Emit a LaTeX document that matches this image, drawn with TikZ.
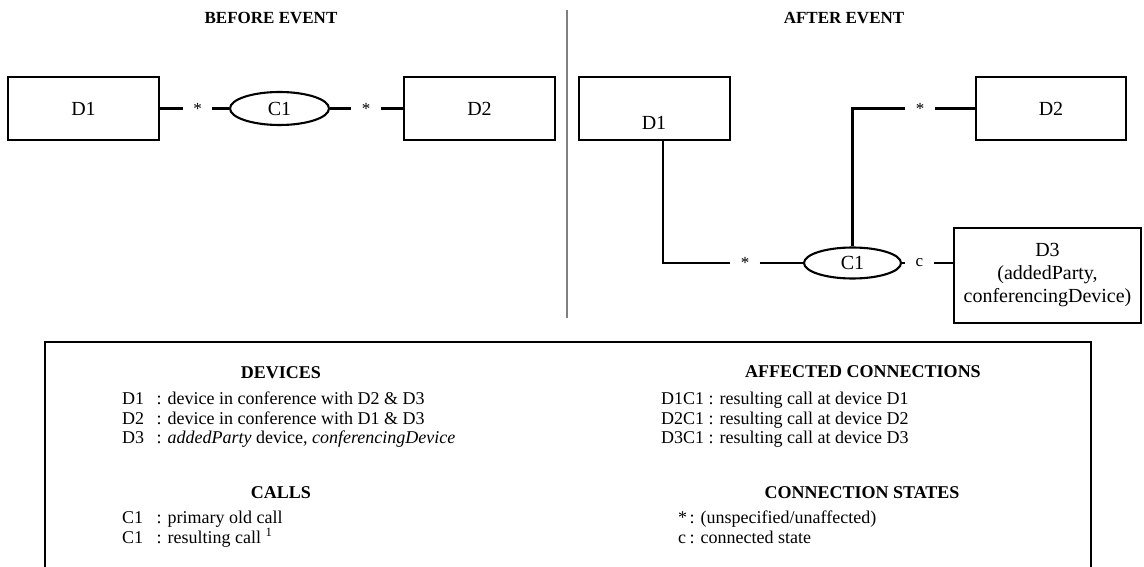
\documentclass[tikz,border=0pt]{standalone}
\usepackage{fontspec}
\setmainfont{Liberation Serif}
\usetikzlibrary{shapes.geometric}
\begin{document}
\begin{tikzpicture}[x=1pt,y=-1pt,
  conn/.style={line width=2.1pt},
  devbox/.style={draw,line width=2.1pt,inner sep=0pt,font=\fontsize{20}{23}\selectfont,align=center},
  devtxt/.style={inner sep=0pt,font=\fontsize{20}{23}\selectfont},
  callov/.style={ellipse,draw,line width=2.1pt,inner sep=0pt,font=\fontsize{20}{23}\selectfont},
  stlab/.style={inner sep=0pt,minimum width=29pt,minimum height=14pt,font=\fontsize{17}{20}\selectfont},
  ttl/.style={inner sep=0pt,font=\fontsize{17}{20}\selectfont\bfseries},
  hdr/.style={inner sep=0pt,font=\fontsize{18}{20}\selectfont\bfseries},
  lgl/.style={anchor=base west,inner sep=0pt,font=\fontsize{18}{20}\selectfont},
]
\useasboundingbox (0,0) rectangle (1144,567);

% titles
\node[ttl] (tb) at (271,18) {BEFORE EVENT};
\node[ttl] (ta) at (844,18) {AFTER EVENT};

% divider
\coordinate (dv1) at (567,10);
\coordinate (dv2) at (567,318);
\draw[line width=1.3pt, gray] (dv1) -- (dv2);

% ---------- before event ----------
\node[devbox, minimum width=151pt, minimum height=63pt] (d1b) at (83.5,108.5) {D1};
\node[stlab] (s1) at (197.5,108.5) {\raisebox{-3pt}{*}};
\node[callov, minimum width=99pt, minimum height=33pt] (c1b) at (279.5,108.5) {C1};
\node[stlab] (s2) at (366,108.5) {\raisebox{-3pt}{*}};
\node[devbox, minimum width=151pt, minimum height=63pt] (d2b) at (479.5,108.5) {D2};
\draw[conn] (d1b.east) -- (s1.west);
\draw[conn] (s1.east) -- (c1b.west);
\draw[conn] (c1b.east) -- (s2.west);
\draw[conn] (s2.east) -- (d2b.west);

% ---------- after event ----------
\node[devbox, minimum width=151pt, minimum height=63pt] (d1a) at (654.5,108.5) {};
\node[devtxt] (d1at) at (654,123) {D1};
\node[devbox, minimum width=150pt, minimum height=63pt] (d2a) at (1051,108.5) {D2};
\node[callov, minimum width=97pt, minimum height=31pt] (c1a) at (852.5,263) {C1};
\node[devbox, minimum width=187pt, minimum height=95pt] (d3) at (1047.5,275.5)
  {D3\\(addedParty,\\conferencingDevice)};
\node[stlab] (s3) at (745,263) {\raisebox{-3pt}{*}};
\node[stlab] (s4) at (920,108.5) {\raisebox{-3pt}{*}};
\node[stlab] (s5) at (919.5,263) {c};
\coordinate (k1) at (663,263);
\draw[conn] (d1a.south -| k1) -- (k1) -- (s3.west);
\draw[conn] (s3.east) -- (c1a.west);
\draw[conn] (c1a.north) |- (s4.west);
\draw[conn] (s4.east) -- (d2a.west);
\draw[conn] (c1a.east) -- (s5.west);
\draw[conn] (s5.east) -- (s5.east -| d3.west);

% ---------- legend ----------
\coordinate (lg1) at (45,567);
\coordinate (lg2) at (45,342);
\coordinate (lg3) at (1091,342);
\coordinate (lg4) at (1091,567);
\draw[line width=2.1pt] (lg1) -- (lg2) -- (lg3) -- (lg4);

\node[hdr] (hdev) at (281,373) {DEVICES};
\node[lgl] (l1a) at (122,404) {D1};
\node[lgl] (l1b) at (156.5,404) {: device in conference with D2 \& D3};
\node[lgl] (l2a) at (122,424) {D2};
\node[lgl] (l2b) at (156.5,424) {: device in conference with D1 \& D3};
\node[lgl] (l3a) at (122,443) {D3};
\node[lgl] (l3b) at (156.5,443) {: \textit{addedParty} device, \textit{conferencingDevice}};

\node[hdr] (hcall) at (281,493) {CALLS};
\node[lgl] (l4a) at (122,523) {C1};
\node[lgl] (l4b) at (156.5,523) {: primary old call};
\node[lgl] (l5a) at (122,543) {C1};
\node[lgl] (l5b) at (156.5,543) {: resulting call \textsuperscript{1}};

\node[hdr] (haff) at (863,372) {AFFECTED CONNECTIONS};
\node[lgl] (r1a) at (661,404) {D1C1};
\node[lgl] (r1b) at (708.5,404) {: resulting call at device D1};
\node[lgl] (r2a) at (661,424) {D2C1};
\node[lgl] (r2b) at (708.5,424) {: resulting call at device D2};
\node[lgl] (r3a) at (661,443) {D3C1};
\node[lgl] (r3b) at (708.5,443) {: resulting call at device D3};

\node[hdr] (hst) at (862,493) {CONNECTION STATES};
\node[lgl] (r4a) at (678,523) {*};
\node[lgl] (r4b) at (689.5,523) {: (unspecified/unaffected)};
\node[lgl] (r5a) at (678,543) {c};
\node[lgl] (r5b) at (689.5,543) {: connected state};
\end{tikzpicture}
\end{document}
